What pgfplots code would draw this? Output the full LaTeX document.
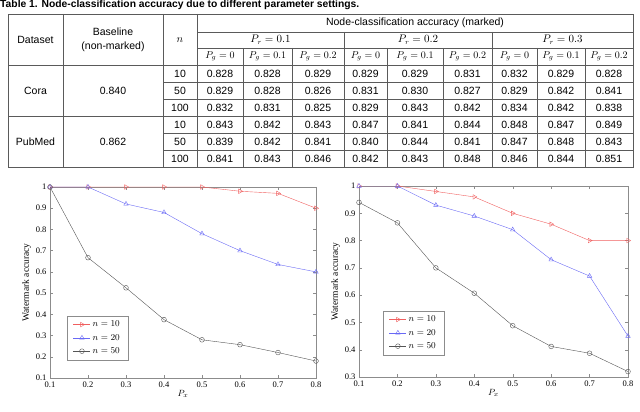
\documentclass[border=0pt]{standalone}
\usepackage{fontspec}
\setmainfont{Liberation Serif}
\setsansfont{Liberation Sans}
\usepackage{pgfplots}
\pgfplotsset{compat=1.18}

\definecolor{redl}{RGB}{240,95,95}
\definecolor{bluel}{RGB}{105,105,245}
\definecolor{grayd}{RGB}{85,85,85}
\definecolor{frame}{RGB}{140,140,140}
\definecolor{rule}{RGB}{90,90,90}

\pgfplotsset{
  wm/.style={
    scale only axis,
    anchor=south west,
    xmin=0.1, xmax=0.8,
    xtick={0.1,0.2,0.3,0.4,0.5,0.6,0.7,0.8},
    tick align=inside,
    axis line style={frame},
    tick style={frame, thin},
    major tick length=3pt,
    ticklabel style={font=\fontsize{8.5}{9}\selectfont},
    /pgf/number format/assume math mode=true,
    xlabel={$P_x$},
    ylabel={Watermark accuracy},
    label style={font=\fontsize{9.5}{10}\selectfont},
    xlabel style={yshift=4pt},
    ylabel style={yshift=-2pt},
    legend cell align=left,
    legend style={draw=frame, font=\fontsize{9.5}{11}\selectfont, row sep=2pt,
      inner xsep=6pt, inner ysep=3pt},
    every axis plot/.append style={thin},
  },
  r10/.style={color=redl, mark=triangle, mark size=2.6pt, mark options={rotate=-90, fill=white}},
  b20/.style={color=bluel, mark=triangle, mark size=2.6pt, mark options={fill=white}},
  g50/.style={color=grayd, mark=o, mark size=2.4pt, mark options={fill=white}},
}

\begin{document}
\begin{tikzpicture}
\useasboundingbox (0,0) rectangle (640pt,412pt);

% ---- table ----
\begin{scope}[x=1pt, y=-1pt, yshift=412pt, font=\sffamily\fontsize{10.5}{12}\selectfont]
  \node[anchor=west, font=\sffamily\bfseries\fontsize{10.3}{12}\selectfont, inner sep=0pt] at (0,5)
    {Table 1. Node-classification accuracy due to different parameter settings.};
  \begin{scope}[draw=rule, line width=0.6pt]
    \draw (8,14) rectangle (633,167);
    \draw (8,65) -- (633,65);
    \draw[line width=0.9pt] (8,116) -- (633,116);
    \foreach \y in {82,99,133,150} \draw (163,\y) -- (633,\y);
    \draw (197,32) -- (633,32);
    \draw (197,48) -- (633,48);
    \foreach \x in {63,163,197} \draw (\x,14) -- (\x,167);
    \foreach \x in {344,492} \draw (\x,32) -- (\x,167);
    \foreach \x in {243,292,387,443,537,585} \draw (\x,48) -- (\x,167);
  \end{scope}
  \node at (35.5,40) {Dataset};
  \node at (113,32) {Baseline};
  \node at (113,47) {(non-marked)};
  \node at (180,40) {$n$};
  \node at (415,23) {Node-classification accuracy (marked)};
  \node at (270.5,40) {$P_r = 0.1$};
  \node at (418,40) {$P_r = 0.2$};
  \node at (562.5,40) {$P_r = 0.3$};
  \foreach \x/\v in {220/0,267.5/0.1,318/0.2,365.5/0,415/0.1,467.5/0.2,514.5/0,561/0.1,609/0.2}
    \node[font=\fontsize{10}{12}\selectfont] at (\x,56.5) {$P_g = \v$};
  \node at (35.5,90.5) {Cora};
  \node at (113,90.5) {0.840};
  \node at (35.5,141.5) {PubMed};
  \node at (113,141.5) {0.862};
  \foreach \y/\n/\a/\b/\c/\d/\e/\f/\g/\h/\i in {
      73.5/10/0.828/0.828/0.829/0.829/0.829/0.831/0.832/0.829/0.828,
      90.5/50/0.829/0.828/0.826/0.831/0.830/0.827/0.829/0.842/0.841,
      107.5/100/0.832/0.831/0.825/0.829/0.843/0.842/0.834/0.842/0.838,
      124.5/10/0.843/0.842/0.843/0.847/0.841/0.844/0.848/0.847/0.849,
      141.5/50/0.839/0.842/0.841/0.840/0.844/0.841/0.847/0.848/0.843,
      158.5/100/0.841/0.843/0.846/0.842/0.843/0.848/0.846/0.844/0.851} {
    \node at (180,\y) {\n};
    \node at (220,\y) {\a};
    \node at (267.5,\y) {\b};
    \node at (318,\y) {\c};
    \node at (365.5,\y) {\d};
    \node at (415,\y) {\e};
    \node at (467.5,\y) {\f};
    \node at (514.5,\y) {\g};
    \node at (561,\y) {\h};
    \node at (609,\y) {\i};
  }
\end{scope}

% ---- left plot (Cora) ----
\begin{axis}[wm,
  at={(50pt,34pt)}, width=266pt, height=191pt,
  ymin=0.1, ymax=1,
  ytick={0.1,0.2,0.3,0.4,0.5,0.6,0.7,0.8,0.9,1},
  legend style={at={(0.064,0.094)}, anchor=south west},
]
\addplot[r10] coordinates {(0.1,1) (0.2,1) (0.3,1) (0.4,1) (0.5,1) (0.6,0.98) (0.7,0.97) (0.8,0.90)};
\addlegendentry{$n = 10$}
\addplot[b20] coordinates {(0.1,1) (0.2,1) (0.3,0.92) (0.4,0.88) (0.5,0.78) (0.6,0.70) (0.7,0.635) (0.8,0.60)};
\addlegendentry{$n = 20$}
\addplot[g50] coordinates {(0.1,1) (0.2,0.667) (0.3,0.525) (0.4,0.375) (0.5,0.28) (0.6,0.257) (0.7,0.22) (0.8,0.18)};
\addlegendentry{$n = 50$}
\end{axis}

% ---- right plot (PubMed) ----
\begin{axis}[wm,
  at={(359pt,35pt)}, width=269pt, height=191pt,
  ymin=0.3, ymax=1,
  ytick={0.3,0.4,0.5,0.6,0.7,0.8,0.9,1},
  legend style={at={(0.089,0.115)}, anchor=south west},
]
\addplot[r10] coordinates {(0.1,1) (0.2,1) (0.3,0.98) (0.4,0.96) (0.5,0.90) (0.6,0.86) (0.7,0.80) (0.8,0.80)};
\addlegendentry{$n = 10$}
\addplot[b20] coordinates {(0.1,1) (0.2,1) (0.3,0.93) (0.4,0.89) (0.5,0.84) (0.6,0.73) (0.7,0.67) (0.8,0.45)};
\addlegendentry{$n = 20$}
\addplot[g50] coordinates {(0.1,0.94) (0.2,0.865) (0.3,0.70) (0.4,0.607) (0.5,0.488) (0.6,0.412) (0.7,0.387) (0.8,0.32)};
\addlegendentry{$n = 50$}
\end{axis}
\end{tikzpicture}
\end{document}
